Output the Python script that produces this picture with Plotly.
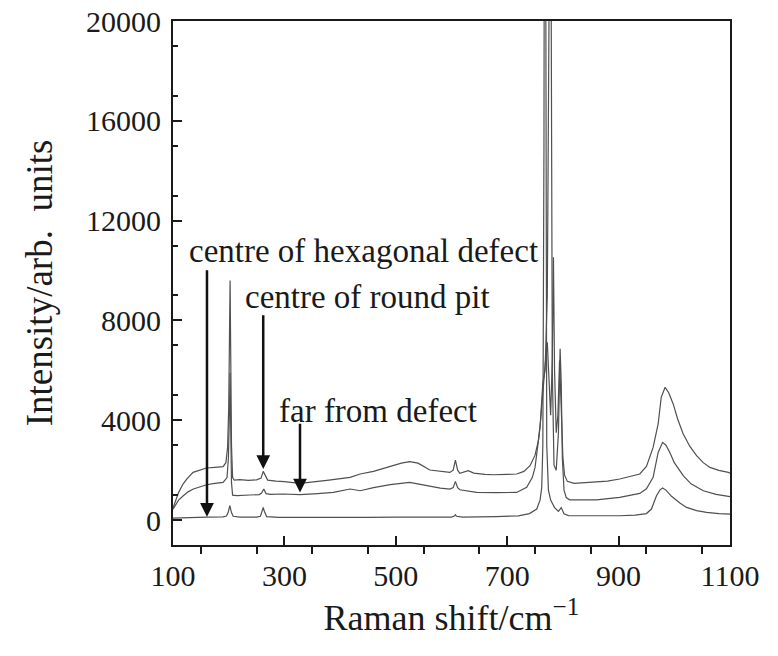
import plotly.graph_objects as go

# ---- data ----
top_x = [100, 105, 110, 118, 125, 136, 148, 160, 175, 190, 195, 198, 200, 201.5, 202.5, 203.5, 205, 207,
         210, 220, 235, 250, 258, 262, 265, 270, 285, 300, 328, 350, 380, 418, 436, 460, 490, 510, 525,
         540, 561, 580, 597, 603, 607, 611, 615, 630, 640, 660, 675, 700, 717, 730, 741, 750, 756, 760,
         764, 768, 772, 775, 778, 781, 783, 785, 788, 791, 794, 797, 800, 803, 808, 820, 850, 880, 902,
         938, 950, 962, 971, 976.5, 983.5, 990, 998, 1006, 1016, 1028, 1040, 1052, 1064, 1080, 1097, 1100]
top_y = [480, 800, 1100, 1444, 1650, 1910, 2010, 2085, 2110, 2138, 2300, 2912, 4500, 8000, 9600, 7000, 3000, 1700,
         1600, 1620, 1590, 1610, 1680, 1950, 1800, 1600, 1560, 1540, 1470, 1520, 1600, 1710, 1845, 1950, 2150, 2280, 2340,
         2280, 2005, 1950, 1910, 2000, 2400, 2000, 1870, 1980, 1880, 1830, 1815, 1830, 1845, 1950, 2180, 2600, 3180, 4000,
         5200, 6200, 7125, 5500, 4200, 6500, 10530, 6000, 3500, 4200, 6400, 4500, 2500, 1800, 1550, 1470, 1500, 1560, 1645,
         1845, 2150, 2912, 3850, 4918, 5320, 5100, 4653, 4050, 3450, 2950, 2580, 2300, 2110, 1990, 1910, 1880]

mid_x = [100, 110, 118.5, 127, 136.5, 148, 160.5, 175, 190, 197, 199.5, 201.5, 202.5, 203.5, 205, 207,
         215, 238, 255, 259, 263, 267, 275, 298, 328, 360, 388, 418, 436, 460, 490, 525, 545, 561, 580,
         597, 603, 607, 611, 615, 630, 645, 680, 717, 735, 745, 750, 755, 759, 764, 768, 772, 775, 777,
         779, 781, 784, 788, 792, 795, 797, 799, 802, 806, 812, 830, 860, 902, 938, 950, 962, 971, 979,
         985, 992, 1000, 1016, 1030, 1052, 1075, 1097, 1100]
mid_y = [440, 800, 975, 1130, 1243, 1340, 1416, 1470, 1510, 1700, 2500, 4500, 5900, 4000, 1500, 1000,
         980, 1003, 1020, 1080, 1243, 1060, 1030, 1043, 1015, 1060, 1107, 1243, 1175, 1300, 1420, 1510, 1420, 1350, 1280,
         1243, 1300, 1550, 1300, 1215, 1150, 1107, 1100, 1107, 1310, 1700, 2110, 2900, 3715, 5500, 6000, 9000, 20000, 35000,
         20000, 6000, 2200, 2000, 3500, 6860, 5500, 2500, 1200, 900, 810, 800, 810, 907, 1067, 1250, 1710, 2710, 3113,
         3000, 2710, 2300, 1777, 1450, 1175, 1030, 947, 940]

hex_x = [100, 130, 160, 190, 196, 199, 202, 205, 208, 220, 250, 257, 260, 262, 264, 268, 290, 350, 400,
         450, 500, 550, 600, 605, 607, 609, 620, 680, 720, 740, 753, 759, 762, 764, 766, 767.5, 769, 771,
         774, 778, 785, 792, 797, 802, 810, 850, 902, 930, 950, 959, 968, 974, 979, 985, 995, 1010, 1022,
         1040, 1058, 1080, 1097, 1100]
hex_y = [80, 110, 120, 130, 160, 300, 574, 300, 150, 120, 115, 150, 350, 506, 350, 140, 110, 100, 110,
         110, 120, 115, 120, 160, 212, 150, 120, 140, 170, 260, 440, 800, 1310, 3000, 15000, 40000, 15000, 3000,
         1200, 800, 500, 350, 500, 250, 180, 172, 172, 200, 260, 440, 975, 1200, 1283, 1200, 950, 680, 506,
         380, 305, 260, 240, 240]

x_labeled = [100, 300, 500, 700, 900, 1100]
x_labels = ["100", "300", "500", "700", "900", "1100"]
x_unlabeled = [200, 400, 600, 800, 1000]
x_minor = [150, 250, 350, 450, 550, 650, 750, 850, 950, 1050]
y_labeled = [0, 4000, 8000, 12000, 16000, 20000]
y_labels = ["0", "4000", "8000", "12000", "16000", "20000"]
y_unlabeled = [2000, 6000, 10000, 14000, 18000]
y_minor = [1000, 3000, 5000, 7000, 9000, 11000, 13000, 15000, 17000, 19000]

labels = ["centre of hexagonal defect", "centre of round pit", "far from defect"]
label_x = [125, 226, 286]
label_y = [10800, 8930, 4385]
arrow_x = [161, 262, 328]
arrow_tip = [130, 2045, 1107]
arrow_tail = [10068, 8263, 3915]

FONT = "Liberation Serif"
INK = "#1a1a1a"
LINE = "#505050"
XR = [100, 1100]
YR = [-1000, 20000]

fig = go.Figure()
for xs, ys in [(top_x, top_y), (mid_x, mid_y), (hex_x, hex_y)]:
    fig.add_trace(go.Scatter(x=xs, y=ys, mode="lines",
                             line=dict(color=LINE, width=1.2), showlegend=False))

for t, lx, ly in zip(labels, label_x, label_y):
    fig.add_annotation(x=lx, y=ly, text=t, showarrow=False, xanchor="left", yanchor="middle",
                       font=dict(family=FONT, size=33, color=INK))
for axv, tip, tail in zip(arrow_x, arrow_tip, arrow_tail):
    fig.add_annotation(x=axv, y=tip, ax=axv, ay=tail, axref="x", ayref="y", text="",
                       showarrow=True, arrowhead=2, arrowsize=1.1, arrowwidth=2.5, arrowcolor="#111")

fig.update_layout(
    width=778, height=656,
    margin=dict(l=165, r=56, t=13, b=119),
    paper_bgcolor="white", plot_bgcolor="white",
    font=dict(family=FONT, size=30, color=INK),
    xaxis=dict(range=XR, tickmode="array", tickvals=x_labeled, ticktext=x_labels,
               ticks="inside", ticklen=9, tickwidth=1.5, tickcolor=INK, ticklabelstandoff=3,
               tickfont=dict(size=30), ticklabeloverflow="allow",
               minor=dict(tickmode="array", tickvals=x_minor, ticks="outside", ticklen=7,
                          tickwidth=1.5, tickcolor=INK),
               showline=True, linecolor=INK, linewidth=1.8, mirror=True, showgrid=False, zeroline=False,
               automargin=False,
               title=dict(text="Raman shift/cm<sup>−1</sup>", standoff=14, font=dict(size=36))),
    yaxis=dict(range=YR, tickmode="array", tickvals=y_labeled, ticktext=y_labels,
               ticks="inside", ticklen=9, tickwidth=1.5, tickcolor=INK, ticklabelstandoff=4,
               tickfont=dict(size=30), ticklabeloverflow="allow",
               minor=dict(tickmode="array", tickvals=y_minor, ticks="inside", ticklen=5,
                          tickwidth=1.5, tickcolor=INK),
               showline=True, linecolor=INK, linewidth=1.8, mirror=True, showgrid=False, zeroline=False,
               automargin=False,
               title=dict(text="Intensity/arb.  units", standoff=22, font=dict(size=37))),
    xaxis2=dict(range=XR, overlaying="x", anchor="y", side="bottom", tickmode="array",
                tickvals=x_unlabeled, ticks="inside", ticklen=9, tickwidth=1.5, tickcolor=INK,
                showticklabels=False, showline=False, showgrid=False, zeroline=False),
    yaxis2=dict(range=YR, overlaying="y", anchor="x", side="left", tickmode="array",
                tickvals=y_unlabeled, ticks="inside", ticklen=9, tickwidth=1.5, tickcolor=INK,
                showticklabels=False, showline=False, showgrid=False, zeroline=False),
)

fig.write_html("out.html")
